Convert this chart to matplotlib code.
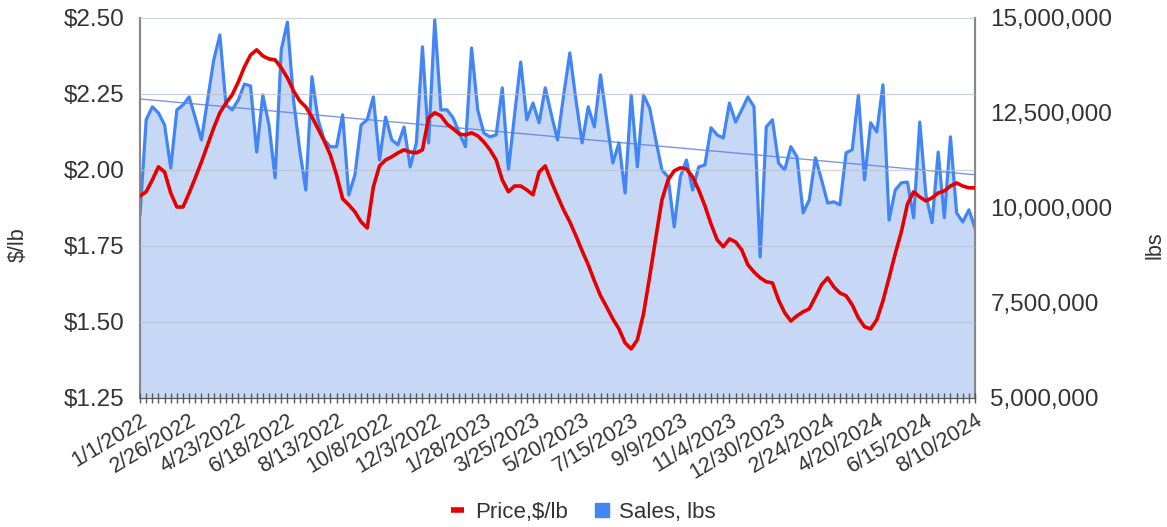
import matplotlib.pyplot as plt
from matplotlib.lines import Line2D
import numpy as np
import pandas as pd

plt.rcParams['font.family'] = ['Liberation Sans', 'DejaVu Sans']

# weekly sales, millions of lbs
sales_m = [9.82, 12.32, 12.66, 12.50, 12.18, 11.05, 12.58, 12.71, 12.92, 12.37,
           11.79, 12.84, 13.89, 14.55, 12.71, 12.58, 12.84, 13.26, 13.21, 11.47,
           12.97, 12.18, 10.79, 14.16, 14.89, 12.84, 11.53, 10.47, 13.45, 12.32,
           11.79, 11.61, 11.61, 12.45, 10.34, 10.87, 12.18, 12.32, 12.92, 11.26,
           12.39, 11.79, 11.66, 12.13, 11.08, 11.71, 14.24, 11.71, 14.95, 12.58,
           12.58, 12.37, 11.97, 11.61, 14.21, 12.58, 11.97, 11.87, 11.92, 13.16,
           11.00, 12.45, 13.84, 12.32, 12.76, 12.24, 13.16, 12.45, 11.79, 12.97,
           14.08, 12.84, 11.71, 12.66, 12.13, 13.50, 12.32, 11.18, 11.71, 10.39,
           12.97, 11.08, 12.97, 12.63, 11.79, 11.00, 10.82, 9.50, 10.82, 11.26,
           10.47, 11.08, 11.13, 12.11, 11.92, 11.84, 12.76, 12.26, 12.58, 12.92,
           12.66, 8.71, 12.13, 12.32, 11.18, 11.00, 11.61, 11.34, 9.87, 10.21,
           11.32, 10.74, 10.13, 10.16, 10.08, 11.45, 11.53, 12.97, 10.74, 12.24,
           12.00, 13.24, 9.68, 10.47, 10.66, 10.68, 9.74, 12.26, 10.34, 9.61,
           11.47, 9.74, 11.87, 9.87, 9.63, 9.95, 9.47]

# weekly price, $/lb
price = [1.914, 1.928, 1.967, 2.010, 1.993, 1.924, 1.878, 1.878, 1.924, 1.974,
         2.026, 2.082, 2.138, 2.188, 2.220, 2.247, 2.289, 2.339, 2.378, 2.395,
         2.375, 2.365, 2.362, 2.336, 2.303, 2.260, 2.227, 2.207, 2.174, 2.135,
         2.095, 2.049, 1.984, 1.905, 1.885, 1.862, 1.829, 1.809, 1.944, 2.013,
         2.033, 2.043, 2.056, 2.066, 2.059, 2.056, 2.066, 2.171, 2.188, 2.178,
         2.151, 2.135, 2.118, 2.115, 2.122, 2.112, 2.092, 2.066, 2.033, 1.967,
         1.928, 1.947, 1.947, 1.934, 1.918, 1.993, 2.013, 1.961, 1.914, 1.868,
         1.829, 1.783, 1.734, 1.688, 1.635, 1.586, 1.549, 1.510, 1.477, 1.431,
         1.411, 1.441, 1.526, 1.648, 1.776, 1.901, 1.967, 1.997, 2.007, 2.003,
         1.977, 1.934, 1.882, 1.822, 1.770, 1.747, 1.773, 1.763, 1.737, 1.688,
         1.664, 1.645, 1.632, 1.628, 1.572, 1.530, 1.503, 1.520, 1.533, 1.543,
         1.582, 1.622, 1.645, 1.615, 1.595, 1.586, 1.556, 1.513, 1.484, 1.477,
         1.507, 1.569, 1.645, 1.724, 1.796, 1.888, 1.928, 1.911, 1.898, 1.908,
         1.924, 1.931, 1.947, 1.957, 1.947, 1.941, 1.941]

tick_labels = ['1/1/2022', '2/26/2022', '4/23/2022', '6/18/2022', '8/13/2022',
               '10/8/2022', '12/3/2022', '1/28/2023', '3/25/2023', '5/20/2023',
               '7/15/2023', '9/9/2023', '11/4/2023', '12/30/2023', '2/24/2024',
               '4/20/2024', '6/15/2024', '8/10/2024']

sales = np.array(sales_m) * 1e6
weeks = np.arange(len(sales))

red = '#e60000'
blue = '#4285f4'
fill = '#c6d8f5'
txt = '#333333'

fig = plt.figure(figsize=(11.67, 5.27), dpi=100)
ax = fig.add_axes([0.12, 0.245, 0.7155, 0.721])
ax2 = ax.twinx()
ax.set_zorder(ax2.get_zorder() + 1)
ax.patch.set_visible(False)

# sales area + linear trend on the right axis
ax2.fill_between(weeks, sales, 0, color=fill, lw=0, zorder=1)
ax2.plot(weeks, sales, color=blue, lw=2.3, zorder=3)
k, b = np.polyfit(weeks, sales, 1)
ax2.plot(weeks, k * weeks + b, color='#5a7be0', lw=1.0, alpha=0.8, zorder=2)
ax2.set_ylim(5e6, 15e6)
ax2.set_yticks(np.arange(5e6, 15e6 + 1, 2.5e6))
ax2.set_yticklabels(['{:,.0f}'.format(v) for v in np.arange(5e6, 15e6 + 1, 2.5e6)])

# price on the left axis
ax.plot(weeks, price, color=red, lw=2.6, zorder=5)
ax.set_ylim(1.25, 2.50)
ax.set_yticks(np.arange(1.25, 2.51, 0.25))
ax.set_yticklabels(['${:.2f}'.format(v) for v in np.arange(1.25, 2.51, 0.25)])
ax.grid(axis='y', color='#b8bfcc', lw=0.9, alpha=0.7)
ax.set_axisbelow(False)

ax.set_xlim(0, len(sales) - 1)
ax.set_xticks(weeks[::8])
ax.set_xticklabels(tick_labels, rotation=31, ha='right', rotation_mode='anchor')
ax.set_xticks(weeks, minor=True)

for a in (ax, ax2):
    a.spines['top'].set_visible(False)
    a.spines['left'].set_color('#888888')
    a.spines['right'].set_color('#888888')
    a.spines['left'].set_linewidth(1.5)
    a.spines['right'].set_linewidth(1.5)
    a.spines['bottom'].set_color('#555555')
ax.tick_params(axis='y', length=0, labelsize=17.5, labelcolor=txt, pad=11)
ax2.tick_params(axis='y', length=0, labelsize=17.5, labelcolor=txt, pad=11)
ax.tick_params(axis='x', which='both', direction='inout', length=7, width=1,
               color='#555555', labelsize=15.5, labelcolor=txt, pad=5)
ax2.tick_params(axis='x', which='both', length=0)

fig.text(0.016, 0.535, '$/lb', rotation=90, ha='center', va='center',
         fontsize=15.5, color=txt)
fig.text(0.99, 0.535, 'lbs', rotation=90, ha='center', va='center',
         fontsize=15.5, color=txt)

handles = [Line2D([], [], color=red, lw=4, solid_capstyle='butt'),
           Line2D([], [], color=blue, marker='s', ls='none', markersize=10)]
fig.legend(handles, ['Price,$/lb', 'Sales, lbs'], loc='center',
           bbox_to_anchor=(0.5, 0.028), ncol=2, frameon=False, fontsize=16,
           handlelength=0.6, handletextpad=0.5, columnspacing=1.2,
           labelcolor=txt)

fig.savefig('out.png', dpi=100)
